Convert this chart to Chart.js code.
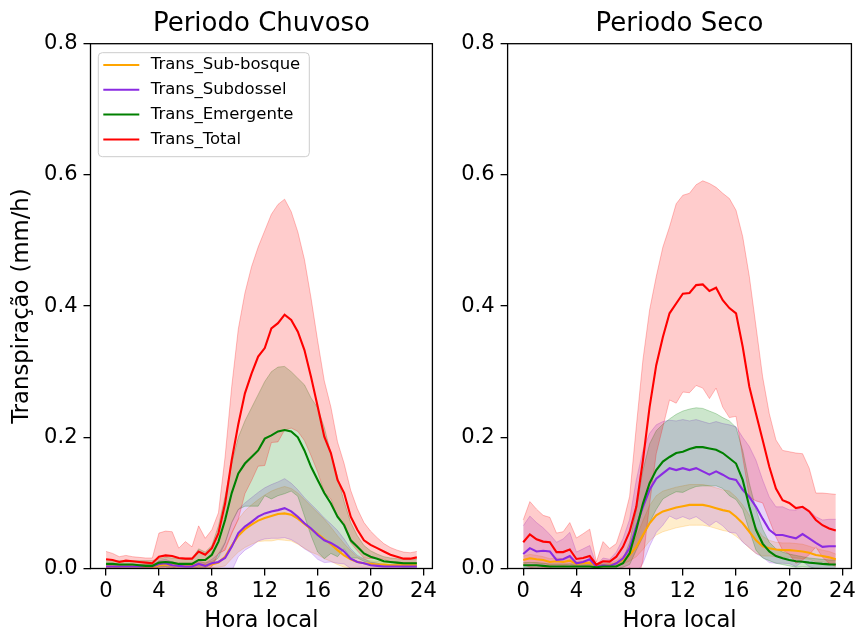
<!DOCTYPE html>
<html>
<head>
<meta charset="utf-8">
<title>Transpiração</title>
<script src="https://cdn.jsdelivr.net/npm/chart.js@4/dist/chart.umd.min.js"></script>
<style>
  html, body { margin: 0; padding: 0; background: #fff; overflow: hidden; }
  #wrap { position: relative; width: 859px; height: 640px; }
  #wrap canvas { position: absolute; top: 0; }
  #chuvoso { left: 0; }
  #seco { left: 440px; }
</style>
</head>
<body>
<div id="wrap">
  <canvas id="chuvoso" width="440" height="640"></canvas>
  <canvas id="seco" width="419" height="640"></canvas>
</div>
<script>
// half-hourly local time
const hours = [
  0, 0.5, 1, 1.5, 2, 2.5, 3, 3.5,
  4, 4.5, 5, 5.5, 6, 6.5, 7, 7.5,
  8, 8.5, 9, 9.5, 10, 10.5, 11, 11.5,
  12, 12.5, 13, 13.5, 14, 14.5, 15, 15.5,
  16, 16.5, 17, 17.5, 18, 18.5, 19, 19.5,
  20, 20.5, 21, 21.5, 22, 22.5, 23, 23.5
]
const hourTicks = [0, 4, 8, 12, 16, 20, 24]
const transTicks = [0, 0.2, 0.4, 0.6, 0.8]

const seriesNames = ['Trans_Sub-bosque', 'Trans_Subdossel', 'Trans_Emergente', 'Trans_Total']
const seriesColors = ['255, 165, 0', '138, 43, 226', '0, 128, 0', '255, 0, 0']

// Periodo chuvoso: means (mm/h) and standard deviations
const chuvosoSubBosque = [
  0.003, 0.003, 0.003, 0.003, 0.003, 0.003, 0.002, 0.002,
  0.005, 0.006, 0.005, 0.004, 0.004, 0.004, 0.006, 0.005,
  0.006, 0.009, 0.018, 0.035, 0.050, 0.060, 0.067, 0.073,
  0.077, 0.080, 0.083, 0.084, 0.082, 0.076, 0.068, 0.060,
  0.053, 0.045, 0.037, 0.028, 0.020, 0.014, 0.010, 0.008,
  0.007, 0.006, 0.006, 0.005, 0.005, 0.005, 0.005, 0.005
]
const chuvosoSubBosqueSd = [
  0.003, 0.003, 0.003, 0.003, 0.003, 0.003, 0.004, 0.004,
  0.004, 0.004, 0.004, 0.004, 0.004, 0.004, 0.004, 0.004,
  0.005, 0.007, 0.014, 0.020, 0.025, 0.028, 0.030, 0.032,
  0.035, 0.038, 0.039, 0.041, 0.040, 0.039, 0.037, 0.035,
  0.032, 0.030, 0.026, 0.022, 0.018, 0.013, 0.008, 0.006,
  0.005, 0.005, 0.004, 0.004, 0.004, 0.004, 0.004, 0.004
]
const chuvosoSubdossel = [
  0.003, 0.003, 0.003, 0.003, 0.003, 0.003, 0.003, 0.003,
  0.007, 0.008, 0.005, 0.004, 0.003, 0.003, 0.007, 0.004,
  0.008, 0.010, 0.016, 0.033, 0.054, 0.064, 0.071, 0.079,
  0.084, 0.087, 0.089, 0.092, 0.087, 0.079, 0.069, 0.061,
  0.051, 0.043, 0.039, 0.033, 0.026, 0.015, 0.010, 0.008,
  0.005, 0.004, 0.003, 0.003, 0.003, 0.003, 0.003, 0.003
]
const chuvosoSubdosselSd = [
  0.003, 0.003, 0.003, 0.003, 0.003, 0.003, 0.003, 0.003,
  0.005, 0.006, 0.005, 0.004, 0.003, 0.003, 0.005, 0.004,
  0.006, 0.012, 0.024, 0.037, 0.036, 0.036, 0.037, 0.037,
  0.039, 0.041, 0.043, 0.045, 0.043, 0.041, 0.039, 0.037,
  0.037, 0.034, 0.029, 0.025, 0.019, 0.015, 0.010, 0.007,
  0.005, 0.004, 0.003, 0.003, 0.003, 0.003, 0.003, 0.003
]
const chuvosoEmergente = [
  0.007, 0.007, 0.006, 0.006, 0.006, 0.005, 0.004, 0.004,
  0.009, 0.010, 0.009, 0.007, 0.007, 0.007, 0.013, 0.013,
  0.021, 0.041, 0.074, 0.115, 0.145, 0.160, 0.170, 0.180,
  0.198, 0.203, 0.209, 0.211, 0.209, 0.200, 0.180, 0.155,
  0.135, 0.115, 0.099, 0.079, 0.066, 0.043, 0.033, 0.023,
  0.018, 0.015, 0.011, 0.010, 0.009, 0.008, 0.008, 0.008
]
const chuvosoEmergenteSd = [
  0.005, 0.005, 0.006, 0.006, 0.006, 0.007, 0.008, 0.008,
  0.006, 0.007, 0.007, 0.008, 0.007, 0.008, 0.017, 0.012,
  0.014, 0.024, 0.036, 0.045, 0.055, 0.065, 0.075, 0.085,
  0.087, 0.097, 0.098, 0.097, 0.091, 0.090, 0.100, 0.105,
  0.110, 0.100, 0.076, 0.061, 0.036, 0.027, 0.017, 0.012,
  0.009, 0.007, 0.007, 0.006, 0.006, 0.006, 0.006, 0.006
]
const chuvosoTotal = [
  0.014, 0.013, 0.010, 0.012, 0.011, 0.010, 0.009, 0.008,
  0.018, 0.020, 0.019, 0.016, 0.015, 0.015, 0.026, 0.021,
  0.031, 0.054, 0.099, 0.165, 0.220, 0.267, 0.297, 0.323,
  0.336, 0.366, 0.374, 0.387, 0.379, 0.361, 0.333, 0.292,
  0.247, 0.201, 0.176, 0.135, 0.115, 0.079, 0.059, 0.043,
  0.036, 0.031, 0.026, 0.021, 0.018, 0.015, 0.015, 0.017
]
const chuvosoTotalSd = [
  0.012, 0.010, 0.008, 0.008, 0.007, 0.007, 0.007, 0.008,
  0.036, 0.037, 0.037, 0.015, 0.026, 0.018, 0.039, 0.025,
  0.028, 0.031, 0.071, 0.112, 0.145, 0.153, 0.163, 0.167,
  0.179, 0.174, 0.181, 0.176, 0.165, 0.152, 0.138, 0.120,
  0.100, 0.085, 0.070, 0.058, 0.045, 0.040, 0.032, 0.027,
  0.021, 0.016, 0.012, 0.011, 0.010, 0.010, 0.009, 0.009
]

// Periodo seco
const secoSubBosque = [
  0.013, 0.0155, 0.014, 0.013, 0.010, 0.011, 0.010, 0.012,
  0.007, 0.008, 0.009, 0.004, 0.005, 0.005, 0.008, 0.013,
  0.0205, 0.033, 0.051, 0.069, 0.081, 0.087, 0.090, 0.093,
  0.095, 0.097, 0.097, 0.097, 0.095, 0.092, 0.089, 0.087,
  0.079, 0.069, 0.056, 0.043, 0.034, 0.031, 0.029, 0.028,
  0.028, 0.027, 0.026, 0.024, 0.0205, 0.019, 0.017, 0.014
]
const secoSubBosqueSd = [
  0.006, 0.006, 0.006, 0.005, 0.005, 0.005, 0.005, 0.005,
  0.004, 0.004, 0.004, 0.003, 0.003, 0.003, 0.004, 0.006,
  0.009, 0.015, 0.022, 0.027, 0.030, 0.031, 0.031, 0.031,
  0.031, 0.031, 0.031, 0.031, 0.031, 0.031, 0.031, 0.031,
  0.030, 0.028, 0.025, 0.020, 0.015, 0.012, 0.011, 0.011,
  0.011, 0.011, 0.011, 0.010, 0.010, 0.009, 0.009, 0.008
]
const secoSubdossel = [
  0.022, 0.031, 0.026, 0.027, 0.026, 0.013, 0.014, 0.019,
  0.008, 0.010, 0.014, 0.003, 0.005, 0.004, 0.008, 0.0155,
  0.031, 0.064, 0.094, 0.120, 0.137, 0.145, 0.153, 0.150,
  0.153, 0.150, 0.153, 0.148, 0.143, 0.148, 0.143, 0.137,
  0.135, 0.120, 0.109, 0.094, 0.076, 0.059, 0.051, 0.051,
  0.0485, 0.046, 0.0525, 0.046, 0.039, 0.033, 0.034, 0.034
]
const secoSubdosselSd = [
  0.043, 0.049, 0.044, 0.035, 0.026, 0.027, 0.031, 0.036,
  0.017, 0.020, 0.021, 0.002, 0.011, 0.010, 0.017, 0.030,
  0.044, 0.071, 0.086, 0.086, 0.082, 0.079, 0.073, 0.075,
  0.074, 0.075, 0.074, 0.076, 0.078, 0.076, 0.078, 0.082,
  0.081, 0.080, 0.077, 0.071, 0.059, 0.050, 0.043, 0.043,
  0.041, 0.043, 0.042, 0.043, 0.040, 0.041, 0.041, 0.041
]
const secoEmergente = [
  0.005, 0.005, 0.005, 0.004, 0.003, 0.003, 0.003, 0.003,
  0.003, 0.003, 0.003, 0.002, 0.003, 0.003, 0.003, 0.008,
  0.023, 0.059, 0.099, 0.130, 0.150, 0.163, 0.170, 0.176,
  0.178, 0.182, 0.185, 0.185, 0.183, 0.181, 0.176, 0.168,
  0.160, 0.135, 0.094, 0.059, 0.038, 0.026, 0.019, 0.0155,
  0.013, 0.011, 0.0104, 0.009, 0.008, 0.007, 0.0063, 0.006
]
const secoEmergenteSd = [
  0.004, 0.004, 0.004, 0.004, 0.004, 0.004, 0.004, 0.004,
  0.004, 0.004, 0.004, 0.004, 0.004, 0.004, 0.004, 0.006,
  0.017, 0.031, 0.051, 0.060, 0.060, 0.057, 0.058, 0.059,
  0.062, 0.061, 0.060, 0.059, 0.057, 0.055, 0.054, 0.057,
  0.055, 0.045, 0.036, 0.031, 0.022, 0.014, 0.011, 0.0095,
  0.009, 0.009, 0.0076, 0.007, 0.007, 0.007, 0.0067, 0.007
]
const secoTotal = [
  0.040, 0.052, 0.0445, 0.041, 0.040, 0.025, 0.025, 0.029,
  0.0145, 0.016, 0.019, 0.006, 0.011, 0.0105, 0.018, 0.033,
  0.056, 0.094, 0.165, 0.246, 0.310, 0.353, 0.389, 0.404,
  0.419, 0.420, 0.432, 0.433, 0.423, 0.428, 0.409, 0.397,
  0.389, 0.338, 0.277, 0.236, 0.196, 0.155, 0.122, 0.104,
  0.100, 0.092, 0.094, 0.087, 0.074, 0.066, 0.061, 0.058
]
const secoTotalSd = [
  0.034, 0.050, 0.046, 0.040, 0.038, 0.029, 0.031, 0.041,
  0.032, 0.037, 0.041, 0.004, 0.030, 0.020, 0.020, 0.036,
  0.054, 0.122, 0.153, 0.148, 0.135, 0.137, 0.132, 0.152,
  0.150, 0.152, 0.153, 0.158, 0.164, 0.153, 0.163, 0.167,
  0.157, 0.168, 0.168, 0.133, 0.096, 0.081, 0.074, 0.076,
  0.078, 0.084, 0.081, 0.066, 0.041, 0.049, 0.053, 0.055
]

const FONT = '"DejaVu Sans", "Liberation Sans", sans-serif'
const tickFont = { family: FONT, size: 21 }
const labelFont = { family: FONT, size: 22.7 }
const titleSize = 26

// black box around the plotting area
const frame = {
  id: 'frame',
  afterDatasetsDraw (chart) {
    const { ctx, chartArea: a } = chart
    ctx.save()
    ctx.strokeStyle = '#000'
    ctx.lineWidth = 1.3
    ctx.strokeRect(a.left, a.top, a.right - a.left, a.bottom - a.top)
    ctx.restore()
  }
}

// title centred over the plotting area
const panelTitle = {
  id: 'panelTitle',
  afterDraw (chart, args, opts) {
    const { ctx, chartArea: a } = chart
    ctx.save()
    ctx.font = `${titleSize}px ${FONT}`
    ctx.fillStyle = '#000'
    ctx.textAlign = 'center'
    ctx.textBaseline = 'alphabetic'
    ctx.fillText(opts.text, (a.left + a.right) / 2, opts.baseline)
    ctx.restore()
  }
}

// legend box drawn inside the upper left corner
const insideLegend = {
  id: 'insideLegend',
  afterDatasetsDraw (chart, args, opts) {
    if (!opts.display) return
    const { ctx, chartArea: a } = chart
    const items = chart.data.datasets.filter(ds => ds.isMean)
    const x = a.left + opts.x
    const y = a.top + opts.y
    ctx.save()
    ctx.beginPath()
    if (ctx.roundRect) ctx.roundRect(x, y, opts.width, opts.height, 4)
    else ctx.rect(x, y, opts.width, opts.height)
    ctx.fillStyle = 'rgba(255, 255, 255, 0.8)'
    ctx.fill()
    ctx.strokeStyle = '#cccccc'
    ctx.lineWidth = 1
    ctx.stroke()
    ctx.font = `16.5px ${FONT}`
    ctx.textBaseline = 'middle'
    items.forEach((ds, i) => {
      const cy = y + opts.firstRow + i * opts.rowGap
      ctx.strokeStyle = ds.borderColor
      ctx.lineWidth = 2
      ctx.beginPath()
      ctx.moveTo(x + 5, cy)
      ctx.lineTo(x + 41, cy)
      ctx.stroke()
      ctx.fillStyle = '#000'
      ctx.fillText(ds.label, x + 52.5, cy)
    })
    ctx.restore()
  }
}

function buildDatasets (means, sds) {
  const bands = []
  const lines = []
  means.forEach((mean, i) => {
    const rgb = seriesColors[i]
    const upper = mean.map((v, k) => ({ x: hours[k], y: v + sds[i][k] }))
    const lower = mean.map((v, k) => ({ x: hours[k], y: v - sds[i][k] }))
    const bandStyle = {
      borderColor: `rgba(${rgb}, 0.25)`,
      borderWidth: 1,
      pointRadius: 0,
      tension: 0,
      order: 20 - i
    }
    bands.push(Object.assign({ data: upper, fill: '+1', backgroundColor: `rgba(${rgb}, 0.2)` }, bandStyle))
    bands.push(Object.assign({ data: lower, fill: false }, bandStyle))
    lines.push({
      label: seriesNames[i],
      isMean: true,
      data: mean.map((v, k) => ({ x: hours[k], y: v })),
      borderColor: `rgb(${rgb})`,
      borderWidth: 2.1,
      pointRadius: 0,
      tension: 0,
      fill: false,
      order: 4 - i
    })
  })
  return bands.concat(lines)
}

function makeOptions (panel) {
  return {
    responsive: false,
    animation: false,
    events: [],
    layout: { padding: { left: 0, top: 43.7, right: panel.padRight, bottom: 0 } },
    plugins: {
      legend: { display: false },
      tooltip: { enabled: false },
      panelTitle: { text: panel.title, baseline: 31 },
      insideLegend: { display: panel.legend, x: 7.8, y: 9, width: 211, height: 104, firstRow: 12.3, rowGap: 24.8 }
    },
    scales: {
      x: {
        type: 'linear',
        min: -1.175,
        max: 24.675,
        afterBuildTicks: s => { s.ticks = hourTicks.map(v => ({ value: v })) },
        afterFit: s => { s.height = 71.5 },
        ticks: { color: '#000', font: tickFont, padding: 3, maxRotation: 0, autoSkip: false, callback: v => String(v) },
        grid: { drawOnChartArea: false, color: '#000', lineWidth: 1.3, tickLength: 7 },
        border: { display: false },
        title: { display: true, text: 'Hora local', color: '#000', font: labelFont, padding: { top: 0, bottom: 5 } }
      },
      y: {
        type: 'linear',
        min: 0,
        max: 0.8,
        afterBuildTicks: s => { s.ticks = transTicks.map(v => ({ value: v })) },
        afterFit: s => { s.width = panel.axisWidth },
        ticks: { color: '#000', font: tickFont, padding: 6, callback: v => v.toFixed(1) },
        grid: { drawOnChartArea: false, color: '#000', lineWidth: 1.3, tickLength: 7 },
        border: { display: false },
        title: { display: panel.yTitle, text: 'Transpiração (mm/h)', color: '#000', font: labelFont, padding: { top: 8, bottom: 0 } }
      }
    }
  }
}

new Chart(document.getElementById('chuvoso'), {
  type: 'line',
  data: {
    datasets: buildDatasets(
      [chuvosoSubBosque, chuvosoSubdossel, chuvosoEmergente, chuvosoTotal],
      [chuvosoSubBosqueSd, chuvosoSubdosselSd, chuvosoEmergenteSd, chuvosoTotalSd]
    )
  },
  options: makeOptions({ title: 'Periodo Chuvoso', legend: true, yTitle: true, axisWidth: 90.5, padRight: 6 }),
  plugins: [frame, insideLegend, panelTitle]
})

new Chart(document.getElementById('seco'), {
  type: 'line',
  data: {
    datasets: buildDatasets(
      [secoSubBosque, secoSubdossel, secoEmergente, secoTotal],
      [secoSubBosqueSd, secoSubdosselSd, secoEmergenteSd, secoTotalSd]
    )
  },
  options: makeOptions({ title: 'Periodo Seco', legend: false, yTitle: false, axisWidth: 67.6, padRight: 7.3 }),
  plugins: [frame, insideLegend, panelTitle]
})
</script>
</body>
</html>
